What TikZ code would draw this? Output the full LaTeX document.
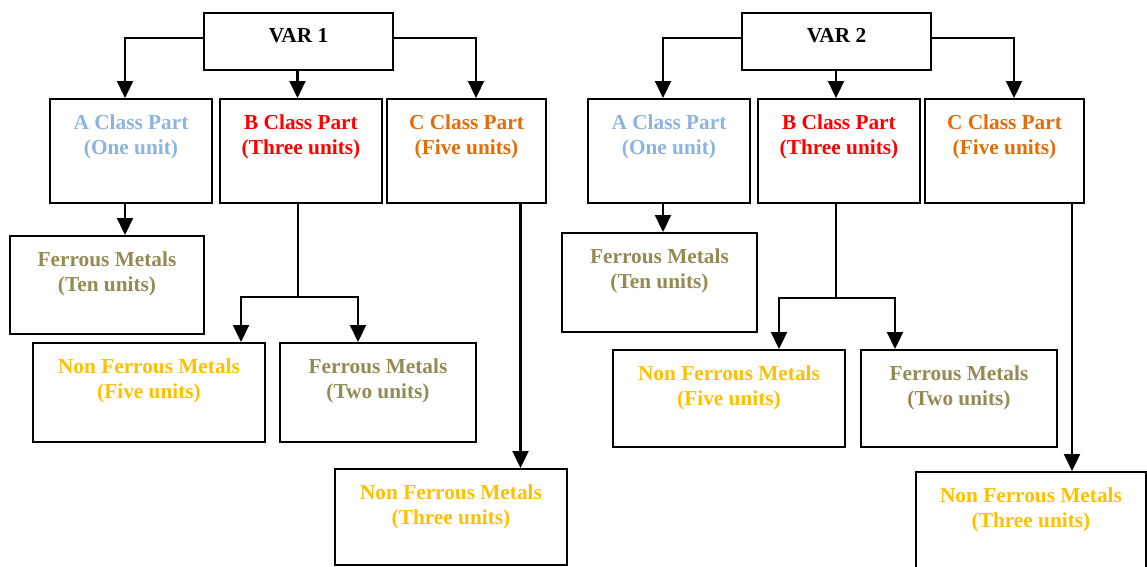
\documentclass[tikz,border=0pt]{standalone}
\usepackage{fontspec}
\setmainfont{Liberation Serif}
\usetikzlibrary{arrows.meta}

\definecolor{clsA}{HTML}{8DB3E2}
\definecolor{clsB}{HTML}{FF0000}
\definecolor{clsC}{HTML}{E36C09}
\definecolor{ferrous}{HTML}{948A54}
\definecolor{nonferrous}{HTML}{FFC000}

\begin{document}
\begin{tikzpicture}[x=1pt,y=-1pt,
  box/.style={draw, line width=2pt, inner sep=0pt},
  lbl/.style={anchor=north, inner sep=0pt, align=center,
              font=\fontsize{21.3}{25}\selectfont\bfseries},
  link/.style={line width=2.2pt, -{Triangle[width=16pt,length=17pt]}},
  trunk/.style={line width=1.6pt},
]
\useasboundingbox (0,0) rectangle (1147,566);
\clip (0,0) rectangle (1147,566);

% ---------------- first variant ----------------
\node[box, minimum width=189pt, minimum height=57pt]  (v1) at (298.5,41.5) {};
\node[box, minimum width=162pt, minimum height=104pt] (a1) at (131,151) {};
\node[box, minimum width=162pt, minimum height=104pt] (b1) at (301,151) {};
\node[box, minimum width=159pt, minimum height=104pt] (c1) at (466.5,151) {};
\node[box, minimum width=194pt, minimum height=98pt]  (f1) at (107,285) {};
\node[box, minimum width=232pt, minimum height=99pt]  (n1) at (149,392.5) {};
\node[box, minimum width=196pt, minimum height=99pt]  (t1) at (378,392.5) {};
\node[box, minimum width=232pt, minimum height=96pt]  (m1) at (451,517) {};

\node[lbl] (v1t) at ([yshift=-16pt]v1.north) {VAR 1};
\node[lbl, text=clsA] (a1t) at ([yshift=-16.5pt]a1.north) {A Class Part\\(One unit)};
\node[lbl, text=clsB] (b1t) at ([yshift=-16.5pt]b1.north) {B Class Part\\(Three units)};
\node[lbl, text=clsC] (c1t) at ([yshift=-16.5pt]c1.north) {C Class Part\\(Five units)};
\node[lbl, text=ferrous] (f1t) at ([yshift=-16.5pt]f1.north) {Ferrous Metals\\(Ten units)};
\node[lbl, text=nonferrous] (n1t) at ([yshift=-16.5pt]n1.north) {Non Ferrous Metals\\(Five units)};
\node[lbl, text=ferrous] (t1t) at ([yshift=-16.5pt]t1.north) {Ferrous Metals\\(Two units)};
\node[lbl, text=nonferrous] (m1t) at ([yshift=-16.5pt]m1.north) {Non Ferrous Metals\\(Three units)};

\draw[link] ([yshift=3.5pt]v1.west) -| ([xshift=-6pt]a1.north);
\draw[link] ([xshift=-1pt]v1.south) -- ([xshift=-1pt]v1.south |- b1.north);
\draw[link] ([yshift=3.5pt]v1.east) -| ([xshift=9.5pt]c1.north);
\draw[link] ([xshift=-6pt]a1.south) -- ([xshift=-6pt]a1.south |- f1.north);
\draw[trunk] ([xshift=-3pt]b1.south) -- ++(0,93) coordinate (j1);
\draw[link] (j1) -| ([xshift=92pt]n1.north);
\draw[link] (j1) -| ([xshift=-20pt]t1.north);
\draw[link] ([xshift=54pt]c1.south) -- ([xshift=54pt]c1.south |- m1.north);

% ---------------- second variant ----------------
\node[box, minimum width=189pt, minimum height=57pt]  (v2) at (836.5,41.5) {};
\node[box, minimum width=162pt, minimum height=104pt] (a2) at (669,151) {};
\node[box, minimum width=162pt, minimum height=104pt] (b2) at (839,151) {};
\node[box, minimum width=159pt, minimum height=104pt] (c2) at (1004.5,151) {};
\node[box, minimum width=195pt, minimum height=99pt]  (f2) at (659.5,282.5) {};
\node[box, minimum width=232pt, minimum height=97pt]  (n2) at (729,398.5) {};
\node[box, minimum width=196pt, minimum height=97pt]  (t2) at (959,398.5) {};
\node[box, minimum width=230pt, minimum height=104pt] (m2) at (1031,524) {};

\node[lbl] (v2t) at ([yshift=-16pt]v2.north) {VAR 2};
\node[lbl, text=clsA] (a2t) at ([yshift=-16.5pt]a2.north) {A Class Part\\(One unit)};
\node[lbl, text=clsB] (b2t) at ([yshift=-16.5pt]b2.north) {B Class Part\\(Three units)};
\node[lbl, text=clsC] (c2t) at ([yshift=-16.5pt]c2.north) {C Class Part\\(Five units)};
\node[lbl, text=ferrous] (f2t) at ([yshift=-16.5pt]f2.north) {Ferrous Metals\\(Ten units)};
\node[lbl, text=nonferrous] (n2t) at ([yshift=-16.5pt]n2.north) {Non Ferrous Metals\\(Five units)};
\node[lbl, text=ferrous] (t2t) at ([yshift=-16.5pt]t2.north) {Ferrous Metals\\(Two units)};
\node[lbl, text=nonferrous] (m2t) at ([yshift=-16.5pt]m2.north) {Non Ferrous Metals\\(Three units)};

\draw[link] ([yshift=3.5pt]v2.west) -| ([xshift=-6pt]a2.north);
\draw[link] ([xshift=-0.5pt]v2.south) -- ([xshift=-0.5pt]v2.south |- b2.north);
\draw[link] ([yshift=3.5pt]v2.east) -| ([xshift=9.5pt]c2.north);
\draw[link] ([xshift=-6pt]a2.south) -- ([xshift=-6pt]a2.south |- f2.north);
\draw[trunk] ([xshift=-3pt]b2.south) -- ++(0,94) coordinate (j2);
\draw[link] (j2) -| ([xshift=50pt]n2.north);
\draw[link] (j2) -| ([xshift=-64pt]t2.north);
\draw[link] ([xshift=67.5pt]c2.south) -- ([xshift=67.5pt]c2.south |- m2.north);
\end{tikzpicture}
\end{document}
